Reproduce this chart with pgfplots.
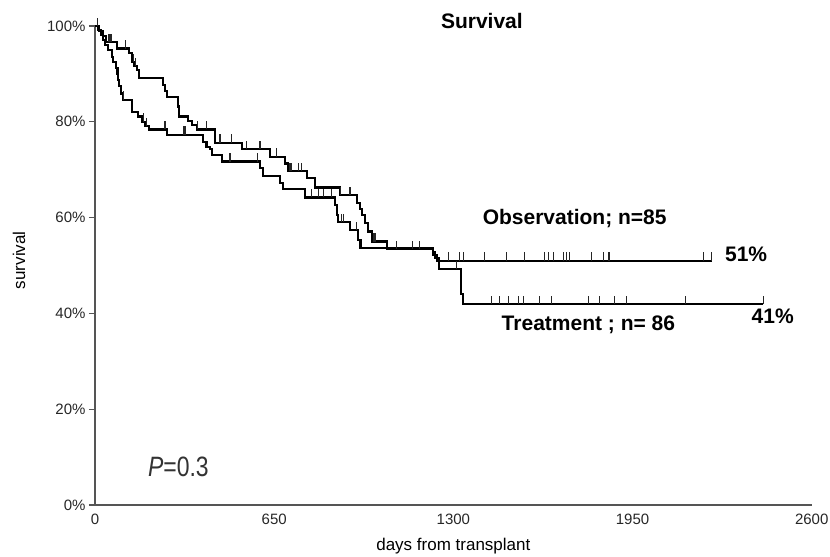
\documentclass[border=0pt]{standalone}
\usepackage{fontspec}
\setmainfont{Liberation Sans}
\usepackage{graphicx}
\usepackage{pgfplots}
\pgfplotsset{compat=1.18}

% censoring tick: short stroke pointing up from the curve
\pgfdeclareplotmark{cens}{%
  \pgfpathmoveto{\pgfqpoint{0pt}{0pt}}%
  \pgfpathlineto{\pgfqpoint{0pt}{2\pgfplotmarksize}}%
  \pgfusepathqstroke}

\definecolor{axisgray}{RGB}{85,85,85}

\begin{document}
\begin{tikzpicture}
\begin{axis}[
  scale only axis,
  width=716.7bp, height=479bp,
  xmin=0, xmax=2600, ymin=0, ymax=100,
  axis x line=bottom, axis y line=left,
  axis line style={-, draw=axisgray, line width=1.3bp},
  xtick={0,650,1300,1950,2600},
  ytick={0,20,...,100},
  yticklabel={\pgfmathprintnumber{\tick}\%},
  xtick style={draw=none},
  ytick style={draw=axisgray, line width=1.2bp},
  tick align=outside,
  major tick length=6bp,
  tick label style={font=\fontsize{15bp}{18bp}\selectfont, text=black!85},
  /pgf/number format/assume math mode=true,
  /pgf/number format/1000 sep={},
  clip=false,
]
% Observation
\addplot[const plot, line width=2.2bp, black, line join=miter] coordinates {
(0,100)(15.6,99.0)(29,97.9)(39.9,96.6)(78.7,95.3)(124.4,94.3)(133.1,92.5)
(143.3,91.6)(151.2,90.8)(160.7,89.1)(245.6,87.7)(253.9,86.4)(262.2,85.1)
(300,83.2)(305.9,81.1)(338.4,80.2)(351.8,79.3)(368.9,78.4)(435.2,75.6)
(532.1,74.3)(634.7,72.7)(689.1,71.3)(701.1,69.7)(767.9,68.2)(798,66.3)
(888.6,64.7)(951.4,63.0)(961.2,61.8)(967.3,60.5)(979.3,58.8)(991.3,57.1)
(1003.6,55.0)(1060.2,53.4)(1227,52.2)(1240.4,51.0)(2236.8,51.0)
};
\addplot[only marks, mark=cens, mark size=4.2bp, mark options={line width=1.1bp, black!85}] coordinates {
(10,100)(48.2,96.6)(54.4,96.6)(60.6,96.6)(111.3,95.3)(138.9,92.5)(148,91.6)
(372,78.4)(405.1,78.4)(453.4,75.6)(495.8,75.6)(550.2,74.3)(598.5,74.3)
(659,72.7)(707.3,69.7)(713.4,69.7)(737.4,69.7)(749.7,69.7)(892,64.7)
(924.9,64.7)(1009.4,55.0)(1015.6,55.0)(1094.3,53.4)(1150.9,53.4)(1176.2,53.4)
(1281.4,51)(1323.9,51)(1335.8,51)(1414.5,51)(1493.2,51)(1559.6,51)
(1632.2,51)(1644.1,51)(1662.3,51)(1698.6,51)(1710.9,51)(1722.8,51)
(1801.5,51)(1843.6,51)(1861.8,51)(1867.9,51)(2206.3,51)(2236.8,51)
};
% Treatment
\addplot[const plot, line width=2.2bp, black, line join=miter] coordinates {
(0,100)(12,99.2)(20.7,98.1)(27.9,97.1)(36.3,96.0)(48.2,95.0)(60.6,93.6)
(66.4,92.5)(76.2,91.2)(81.6,90.0)(84.5,88.7)(88.1,87.5)(93.2,85.9)
(100.5,84.6)(133.1,82.1)(157,81.1)(169.4,80.0)(181.4,79.1)(194.8,78.4)
(262.2,77.3)(392.8,75.8)(404.4,74.8)(417.1,74.3)(423.3,73.1)(459.5,71.7)
(598.5,70.3)(610.4,68.7)(671,67.2)(683,65.9)(761.7,64.2)(870.5,62.6)
(876.7,60.5)(882.5,59.1)(924.9,57.4)(955,55.3)(963,53.6)(1227,52.8)
(1233.2,51.5)(1248.8,49.2)(1326.4,44.1)(1335.8,41.9)(2423.9,41.9)
};
\addplot[only marks, mark=cens, mark size=4.2bp, mark options={line width=1.1bp, black!85}] coordinates {
(102.6,84.6)(175.2,80.0)(187.5,79.1)(253.9,78.4)(320.3,77.3)(326.4,77.3)
(489.6,71.7)(588.7,71.7)(786,64.2)(810,64.2)(828,64.2)(858.5,64.2)
(894.8,59.1)(900.6,59.1)(949.2,57.4)(1311.9,49.2)
(1438.8,41.9)(1468.9,41.9)(1499,41.9)(1535.3,41.9)(1556,41.9)(1614,41.9)
(1656.5,41.9)(1789.2,41.9)(1831.7,41.9)(1886.1,41.9)(1928.5,41.9)
(2142.5,41.9)(2423.9,41.9)
};
\coordinate (O) at (axis cs:0,0);
\node[anchor=base, font=\fontsize{21bp}{24bp}\selectfont\bfseries] at (axis cs:1403.6,99.5) {Survival};
\node[anchor=base west, font=\fontsize{21bp}{24bp}\selectfont\bfseries] at (axis cs:1393.9,58.6) {Observation; n=85};
\node[anchor=base west, font=\fontsize{21bp}{24bp}\selectfont\bfseries] at (axis cs:2273,50.8) {51\%};
\node[anchor=base west, font=\fontsize{21bp}{24bp}\selectfont\bfseries] at (axis cs:1462.8,36.4) {Treatment ; n= 86};
\node[anchor=base west, font=\fontsize{21bp}{24bp}\selectfont\bfseries] at (axis cs:2369.5,37.8) {41\%};
\node[anchor=base west, text=black!80, inner sep=0pt] at (axis cs:192,5.85)
  {\scalebox{0.82}[1]{\fontsize{28bp}{30bp}\selectfont\itshape P\upshape=0.3}};
\node[rotate=90, anchor=base, inner sep=0pt, font=\fontsize{17bp}{20bp}\selectfont] at (axis cs:-253.9,51.1) {survival};
\node[anchor=base, inner sep=0pt, font=\fontsize{17bp}{20bp}\selectfont] at (axis cs:1300,-9.6) {days from transplant};
\end{axis}
\pgfresetboundingbox
\path[use as bounding box] (O) ++(-95bp,-52bp) rectangle ++(830bp,557bp);
\end{tikzpicture}
\end{document}
